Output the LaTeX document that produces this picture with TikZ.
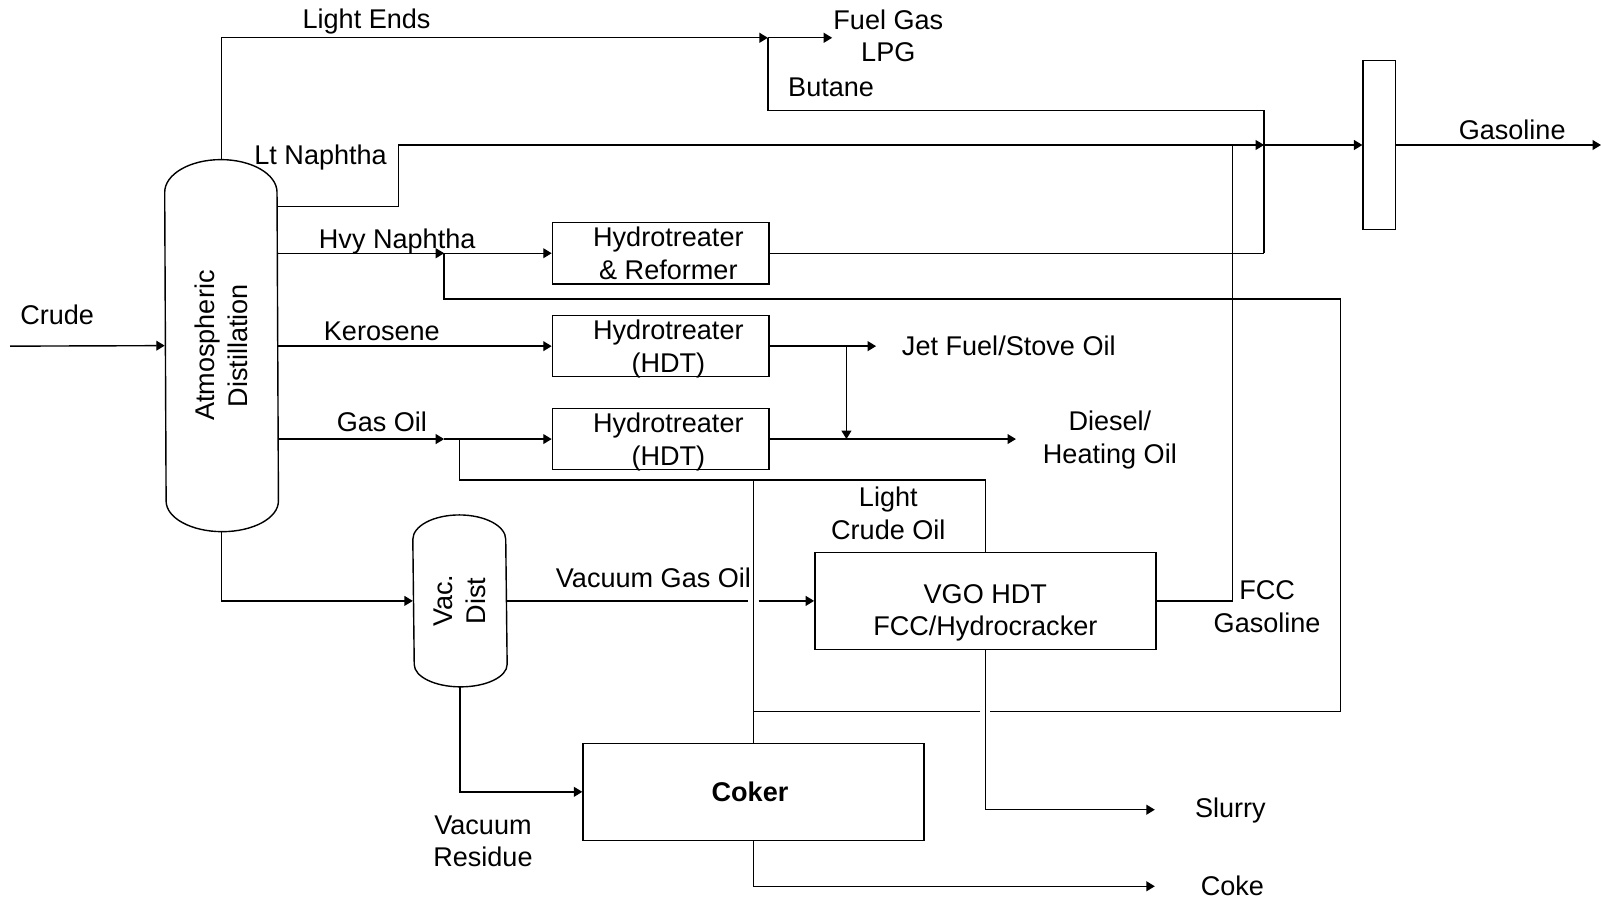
\documentclass[tikz,border=0pt]{standalone}
\usepackage{fontspec}
\setmainfont{Liberation Sans}
\usetikzlibrary{arrows.meta,fit,calc}

\begin{document}
\begin{tikzpicture}[x=0.01021cm, y=-0.01021cm, line width=0.4pt,
  font=\fontsize{7.7}{9.3}\selectfont,
  flow/.style={-{Triangle[length=2.4pt,width=2.8pt]}},
  unit/.style={draw, inner sep=0pt},
  vessel/.style={inner sep=0pt}]
  \useasboundingbox (0,0) rectangle (1568,881);

  % columns
  \node[vessel, fit={(162,157) (272,520)}] (atm) {};
  \node[vessel, fit={(405,505) (496,672)}] (vac) {};
  \draw ($(atm.north west)+(0,32)$) arc[start angle=180, end angle=360, x radius=55, y radius=32]
    -- ($(atm.south east)+(0,-30)$) arc[start angle=0, end angle=180, x radius=55, y radius=30] -- cycle;
  \draw ($(vac.north west)+(0,24)$) arc[start angle=180, end angle=360, x radius=45.5, y radius=24]
    -- ($(vac.south east)+(0,-22)$) arc[start angle=0, end angle=180, x radius=45.5, y radius=22] -- cycle;
  \node[rotate=90, align=center] at (atm.center) {Atmospheric\\Distillation};
  \node[rotate=90, align=center] at (vac.center) {Vac.\\Dist};

  % process units
  \node[unit, fit={(541,218) (753,278)},
    label={[align=center, xshift=2.2pt]center:Hydrotreater\\\& Reformer}] (htr) {};
  \node[unit, fit={(541,309) (753,369)},
    label={[align=center, xshift=2.2pt, yshift=-0.9pt]center:Hydrotreater\\(HDT)}] (hdt1) {};
  \node[unit, fit={(541,400) (753,460)},
    label={[align=center, xshift=2.2pt, yshift=-0.9pt]center:Hydrotreater\\(HDT)}] (hdt2) {};
  \node[unit, fit={(798,541) (1132,636)},
    label={[align=center, yshift=-3.4pt]center:VGO HDT\\FCC/Hydrocracker}] (vgo) {};
  \node[unit, fit={(571,728) (905,823)},
    label={[font=\fontsize{7.7}{9.3}\selectfont\bfseries, xshift=-1pt]center:Coker}] (coker) {};
  \node[unit, fit={(1335,59) (1367,225)}] (blend) {};

  % stream labels
  \foreach \n/\x/\y/\t in {
    lcrude/56/308/Crude,
    llends/359/21/Light Ends,
    lfuel/870/35/{Fuel Gas\\LPG},
    lbut/814/86/Butane,
    lltn/314/154/Lt Naphtha,
    lgas/1481/127/Gasoline,
    lhvy/389/237/Hvy Naphtha,
    lkero/374/324/Kerosene,
    lgo/374/413/Gas Oil,
    ljet/988/339/{Jet Fuel/Stove Oil},
    ldsl/1087/431/{Diesel/\\Heating Oil},
    llco/870/503/{Light\\Crude Oil},
    lvgo/640/566/Vacuum Gas Oil,
    lfcc/1241/594/{FCC\\Gasoline},
    lslur/1205/794/Slurry,
    lvr/473/824/{Vacuum\\Residue},
    lcoke/1207/868/Coke} {
    \node[align=center] (\n) at (\x,\y) {\t};
  }

  % junctions and free ends
  \coordinate (crin) at (10,339);
  \coordinate (le) at (752,37);
  \coordinate (fg) at (815,37);
  \coordinate (bu) at (1238,108);
  \coordinate (ltn) at (390,202);
  \coordinate (mix) at (1238,142);
  \coordinate (gout) at (1568,142);
  \coordinate (fccg) at (1207,142);
  \coordinate (hn) at (435,248);
  \coordinate (rec) at (1313,293);
  \coordinate (g2a) at (970,697);
  \coordinate (g2b) at (960,697);
  \coordinate (cv) at (738,697);
  \coordinate (kd) at (829,339);
  \coordinate (jet) at (858,339);
  \coordinate (go) at (435,430);
  \coordinate (gob) at (450,430);
  \coordinate (lco) at (965,470);
  \coordinate (dsl) at (995,430);
  \coordinate (g1a) at (733,588.5);
  \coordinate (g1b) at (743,588.5);
  \coordinate (slur) at (1131,793);
  \coordinate (coke) at (1131,868);

  % streams
  \draw[flow] (crin) -- (atm.west);
  \draw[flow] (atm.north) |- (le);
  \draw[flow] (le) -- (fg);
  \draw (le) |- (bu) -- (bu |- htr.east);
  \draw[flow] (atm.east |- ltn) -- (ltn) |- (mix);
  \draw[flow] (mix) -- (blend.west |- mix);
  \draw[flow] (blend.east |- mix) -- (gout);
  \draw (htr.east) -- (bu |- htr.east);
  \draw[flow] (atm.east |- htr.west) -- (hn);
  \draw[flow] (hn) -- (htr.west);
  \draw (hn) |- (rec) |- (g2a);
  \draw (g2b) -- (cv);
  \draw[flow] (atm.east |- hdt1.west) -- (hdt1.west);
  \draw[flow] (hdt1.east) -- (jet);
  \draw[flow] (kd) -- (kd |- hdt2.east);
  \draw[flow] (atm.east |- hdt2.west) -- (go);
  \draw[flow] (go) -- (hdt2.west);
  \draw[flow] (hdt2.east) -- (dsl);
  \draw (gob) |- (lco) -- (vgo.north);
  \draw (coker.north |- lco) -- (coker.north);
  \draw[flow] (atm.south) |- (vac.west);
  \draw (vac.east) -- (g1a);
  \draw[flow] (g1b) -- (vgo.west);
  \draw (vgo.east) -| (fccg);
  \draw[flow] (vgo.south) |- (slur);
  \draw[flow] (vac.south) |- (coker.west);
  \draw[flow] (coker.south) |- (coke);
\end{tikzpicture}
\end{document}
